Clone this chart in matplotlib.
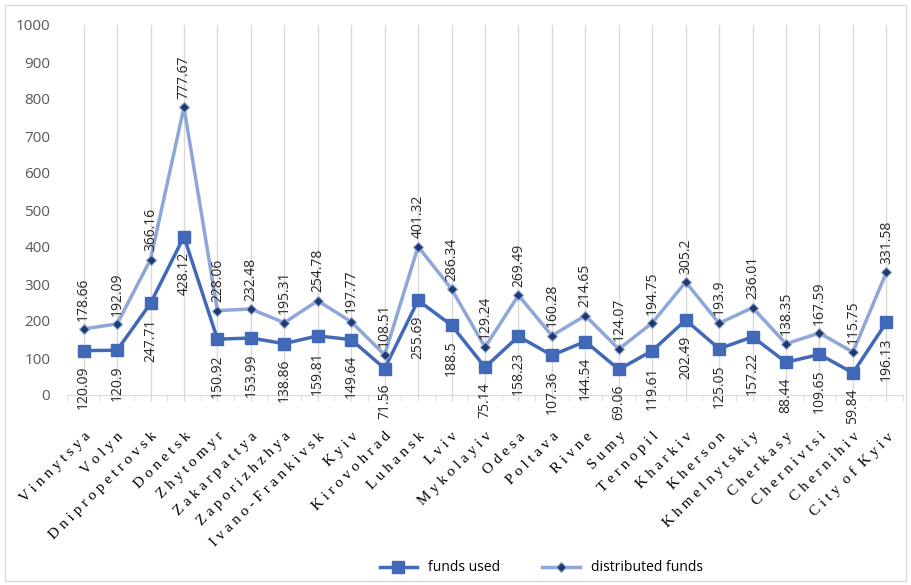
import matplotlib
matplotlib.use("Agg")
import matplotlib.pyplot as plt
from matplotlib.patches import Rectangle

# regions and values
regions = ["Vinnytsya", "Volyn", "Dnipropetrovsk", "Donetsk", "Zhytomyr",
           "Zakarpattya", "Zaporizhzhya", "Ivano-Frankivsk", "Kyiv", "Kirovohrad",
           "Luhansk", "Lviv", "Mykolayiv", "Odesa", "Poltava", "Rivne", "Sumy",
           "Ternopil", "Kharkiv", "Kherson", "Khmelnytskiy", "Cherkasy",
           "Chernivtsi", "Chernihiv", "City of Kyiv"]
funds_used = [120.09, 120.9, 247.71, 428.12, 150.92, 153.99, 138.86, 159.81,
              149.64, 71.56, 255.69, 188.5, 75.14, 158.23, 107.36, 144.54, 69.06,
              119.61, 202.49, 125.05, 157.22, 88.44, 109.65, 59.84, 196.13]
distributed = [178.66, 192.09, 366.16, 777.67, 228.06, 232.48, 195.31, 254.78,
               197.77, 108.51, 401.32, 286.34, 129.24, 269.49, 160.28, 214.65,
               124.07, 194.75, 305.2, 193.9, 236.01, 138.35, 167.59, 115.75, 331.58]
y_ticks = [0, 100, 200, 300, 400, 500, 600, 700, 800, 900, 1000]

used_color = "#4169B8"
dist_color = "#8EA6D8"
label_font = "Open Sans"

fig = plt.figure(figsize=(9.11, 5.85), dpi=100)
fig.patches.append(Rectangle((0.006, 0.006), 0.988, 0.986, transform=fig.transFigure,
                             fill=False, edgecolor="#D9D9D9", linewidth=1))
n = len(regions)
step = (888 - 82) / (n - 1)
margin = 0.45
ax = fig.add_axes([(82 - margin * step) / 911, 1 - 395 / 585,
                   (n - 1 + 2 * margin) * step / 911, 370 / 585])

x = list(range(n))
ax.plot(x, funds_used, color=used_color, linewidth=2.5, marker="s", markersize=9,
        label="funds used", zorder=3)
ax.plot(x, distributed, color=dist_color, linewidth=2.5, marker="D", markersize=5,
        markerfacecolor="#1F3A6E", markeredgecolor=dist_color, markeredgewidth=0.8,
        label="distributed funds", zorder=3)

for i in x:
    ax.annotate(f"{distributed[i]:g}", (i, distributed[i]), xytext=(0, 6),
                textcoords="offset points", rotation=90, ha="center", va="bottom",
                fontsize=10, family=label_font, color="#262626")
    ax.annotate(f"{funds_used[i]:g}", (i, funds_used[i]), xytext=(0, -11),
                textcoords="offset points", rotation=90, ha="center", va="top",
                fontsize=10, family=label_font, color="#262626")

ax.set_xlim(-margin, n - 1 + margin)
ax.set_ylim(0, 1000)
ax.set_yticks(y_ticks)
ax.tick_params(axis="y", length=0, labelsize=11, labelcolor="#595959", pad=12)
for t in ax.get_yticklabels():
    t.set_family(label_font)

# letter-spaced category names, like the source
ax.set_xticks(x)
ax.set_xticks([i + 0.5 for i in range(-1, n)], minor=True)
spaced = [" ".join(r).replace("   ", "  ") for r in regions]
ax.set_xticklabels(spaced, rotation=45, ha="right", rotation_mode="anchor",
                   family="Liberation Serif", fontsize=11, color="#000000")
ax.tick_params(axis="x", which="both", length=4, color="#D9D9D9")
ax.tick_params(axis="x", which="major", pad=21)
ax.grid(axis="x", which="major", color="#D9D9D9", linewidth=1)
ax.set_axisbelow(True)
for s in ["top", "right", "left"]:
    ax.spines[s].set_visible(False)
ax.spines["bottom"].set_color("#D9D9D9")

fig.legend(loc="lower center", bbox_to_anchor=(0.594, -0.005), ncol=2, frameon=False,
           prop={"family": label_font, "size": 10}, handlelength=2.7,
           columnspacing=3)

fig.savefig("out.png", dpi=100)
